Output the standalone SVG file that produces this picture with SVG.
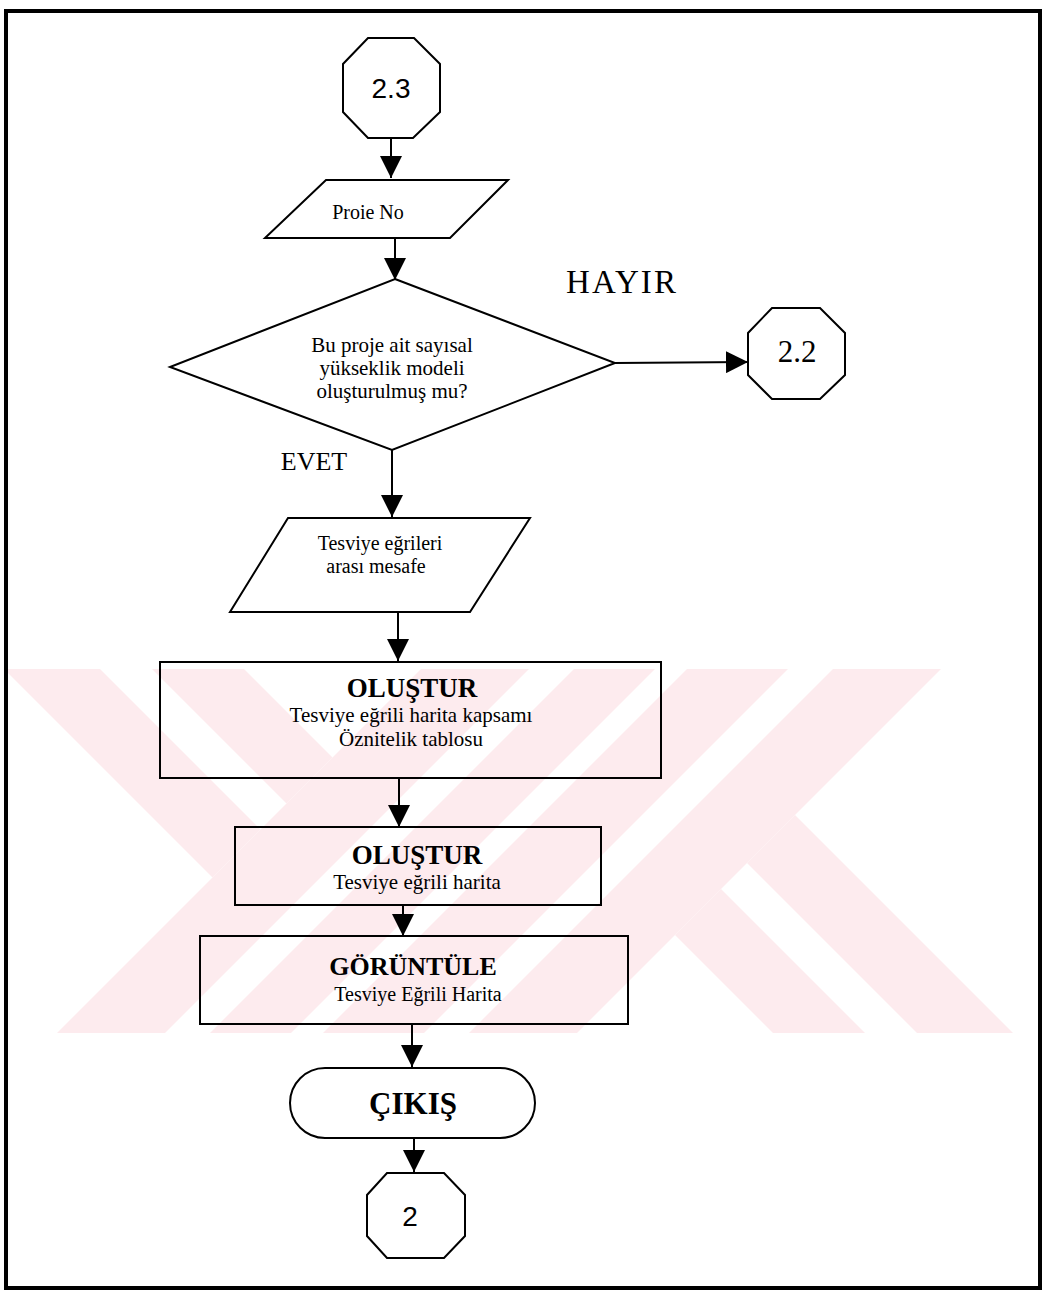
<svg xmlns="http://www.w3.org/2000/svg" width="1043" height="1297" viewBox="0 0 1043 1297">
<defs>
<marker id="ah" markerUnits="userSpaceOnUse" markerWidth="22" markerHeight="22" viewBox="0 0 22 22" refX="22" refY="11" orient="auto">
<path d="M0,0 L22,11 L0,22 Z" fill="#000"/>
</marker>
<style>
.shape{fill:none;stroke:#000;stroke-width:2}
.wm{fill:#fdebee;stroke:none}
.conn{stroke:#000;stroke-width:2;fill:none;marker-end:url(#ah)}
.t{font-family:"Liberation Serif","Times New Roman",serif;fill:#000;text-anchor:middle}
.s{font-family:"Liberation Sans",Arial,sans-serif;fill:#000;text-anchor:middle}
.b{font-weight:bold}
</style>
</defs>
<rect width="1043" height="1297" fill="#fff"/>
<g id="watermark">
<polygon class="wm" points="6,669 100,669 260.5,829.5 212.5,877.5 6,671"/>
<polygon class="wm" points="152,669 244,669 332.5,757.5 286.5,803.5"/>
<polygon class="wm" points="421,669 529,669 165,1033 57,1033"/>
<polygon class="wm" points="574,669 655,669 291,1033 210,1033"/>
<polygon class="wm" points="687,669 788,669 424,1033 323,1033"/>
<polygon class="wm" points="833,669 941,669 577,1033 469,1033"/>
<polygon class="wm" points="675,935 721,889 865,1033 773,1033"/>
<polygon class="wm" points="747,863 795,815 1013,1033 917,1033"/>
</g>
<rect x="6" y="11" width="1034" height="1277" fill="none" stroke="#000" stroke-width="4"/>
<g id="connectors">
<line class="conn" x1="391" y1="138" x2="391" y2="178"/>
<line class="conn" x1="395" y1="238" x2="395" y2="280"/>
<line class="conn" x1="615" y1="363" x2="748" y2="362"/>
<line class="conn" x1="392" y1="450" x2="392" y2="517"/>
<line class="conn" x1="398" y1="612" x2="398" y2="661"/>
<line class="conn" x1="399" y1="778" x2="399" y2="827"/>
<line class="conn" x1="403" y1="905" x2="403" y2="936"/>
<line class="conn" x1="412" y1="1024" x2="412" y2="1067"/>
<line class="conn" x1="414" y1="1138" x2="414" y2="1172"/>
</g>
<g id="n_2_3">
<polygon class="shape" points="368,38 414,38 440,64 440,112 413,138 368,138 343,112 343,64"/>
<text class="s" x="391" y="98" font-size="28">2.3</text>
</g>
<g id="n_proje">
<polygon class="shape" points="326,180 508,180 450,238 265,238"/>
<text class="t" x="368" y="219" font-size="20">Proie No</text>
</g>
<g id="n_decision">
<polygon class="shape" points="395,279 615,363 392,450 170,367"/>
<text class="t" x="392" y="352" font-size="21">Bu proje ait sayısal</text>
<text class="t" x="392" y="375" font-size="21">yükseklik modeli</text>
<text class="t" x="392" y="398" font-size="21">oluşturulmuş mu?</text>
</g>
<g id="l_hayir"><text class="t" x="621" y="293" font-size="33" textLength="110" lengthAdjust="spacing">HAYIR</text></g>
<g id="l_evet"><text class="t" x="314" y="470" font-size="26">EVET</text></g>
<g id="n_2_2">
<polygon class="shape" points="772,308 820,308 845,333 845,375 820,399 772,399 748,375 748,333"/>
<text class="t" x="797" y="362" font-size="31">2.2</text>
</g>
<g id="n_mesafe">
<polygon class="shape" points="288,518 530,518 470,612 230,612"/>
<text class="t" x="380" y="550" font-size="20">Tesviye eğrileri</text>
<text class="t" x="376" y="573" font-size="20">arası mesafe</text>
</g>
<g id="n_olustur1">
<rect class="shape" x="160" y="662" width="501" height="116"/>
<text class="t b" x="412" y="697" font-size="27">OLUŞTUR</text>
<text class="t" x="411" y="722" font-size="21">Tesviye eğrili harita kapsamı</text>
<text class="t" x="411" y="746" font-size="21">Öznitelik tablosu</text>
</g>
<g id="n_olustur2">
<rect class="shape" x="235" y="827" width="366" height="78"/>
<text class="t b" x="417" y="864" font-size="27">OLUŞTUR</text>
<text class="t" x="417" y="889" font-size="21">Tesviye eğrili harita</text>
</g>
<g id="n_goruntule">
<rect class="shape" x="200" y="936" width="428" height="88"/>
<text class="t b" x="413" y="975" font-size="26">GÖRÜNTÜLE</text>
<text class="t" x="418" y="1001" font-size="20">Tesviye Eğrili Harita</text>
</g>
<g id="n_cikis">
<rect class="shape" x="290" y="1068" width="245" height="70" rx="35" ry="35"/>
<text class="t b" x="413" y="1114" font-size="31">ÇIKIŞ</text>
</g>
<g id="n_2">
<polygon class="shape" points="387,1173 444,1173 465,1195 465,1236 444,1258 387,1258 367,1236 367,1195"/>
<text class="s" x="410" y="1226" font-size="28">2</text>
</g>
</svg>
